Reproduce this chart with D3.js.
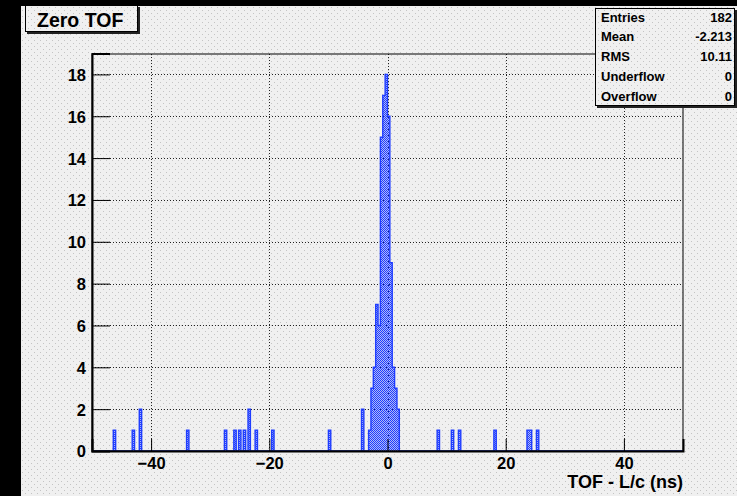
<!DOCTYPE html>
<html>
<head>
<meta charset="utf-8">
<script src="https://cdn.jsdelivr.net/npm/d3@7"></script>
<style>
body { margin: 0; background: #000; }
svg { display: block; }
text { font-family: "Liberation Sans", Arial, Helvetica, sans-serif; font-weight: bold; fill: #000; }
</style>
</head>
<body>
<script>
// histogram: 250 bins from -50 to 50 ns
const nBins = 250, xLow = -50, xHigh = 50;

// low edges of the non-empty bins and their contents
const binLow = [
  -46.4, -43.2, -42.0, -34.0, -27.6, -26.0, -25.2, -24.4, -23.6, -22.4, -19.6, -10.0,
  -4.4,
  -3.2, -2.8, -2.4, -2.0, -1.6, -1.2, -0.8, -0.4, 0.0, 0.4, 0.8, 1.2, 1.6,
  8.4, 10.8, 12.0, 18.0, 23.6, 24.0, 25.2
];
const binCount = [
  1, 1, 2, 1, 1, 1, 1, 1, 2, 1, 1, 1,
  2,
  1, 3, 4, 7, 6, 15, 17, 18, 16, 9, 4, 3, 2,
  1, 1, 1, 1, 1, 1, 1
];

const xMajor = [-40, -20, 0, 20, 40];
const yMajor = [0, 2, 4, 6, 8, 10, 12, 14, 16, 18];

const histTitle = "Zero TOF";
const xTitle = "TOF - L/c (ns)";
const statNames  = ["Entries", "Mean", "RMS", "Underflow", "Overflow"];
const statValues = ["182", "-2.213", "10.11", "0", "0"];

const W = 737, H = 496;
const frame = {left: 92, right: 683, top: 53.5, bottom: 451};
const lineBlue = "#1f3dff";

const svg = d3.select("body").append("svg")
    .attr("width", W).attr("height", H);

const defs = svg.append("defs");

// ROOT-like dotted canvas background
const bg = defs.append("pattern").attr("id", "bgdots")
    .attr("patternUnits", "userSpaceOnUse").attr("width", 6).attr("height", 6);
bg.append("rect").attr("width", 6).attr("height", 6).attr("fill", "#f0f0f0");
bg.append("rect").attr("x", 1).attr("y", 1).attr("width", 1).attr("height", 1).attr("fill", "#c4c4c4");
bg.append("rect").attr("x", 4).attr("y", 4).attr("width", 1).attr("height", 1).attr("fill", "#c4c4c4");

// histogram fill pattern (checker, like fill style 3001)
const hp = defs.append("pattern").attr("id", "hfill")
    .attr("patternUnits", "userSpaceOnUse").attr("width", 2).attr("height", 2);
hp.append("rect").attr("width", 2).attr("height", 2).attr("fill", lineBlue).attr("opacity", 0.3);
hp.append("rect").attr("x", 0).attr("y", 0).attr("width", 1).attr("height", 1).attr("fill", lineBlue);
hp.append("rect").attr("x", 1).attr("y", 1).attr("width", 1).attr("height", 1).attr("fill", lineBlue);

// canvas
svg.append("rect").attr("x", 21).attr("y", 6).attr("width", W - 21).attr("height", H - 6)
    .attr("fill", "url(#bgdots)");

const x = d3.scaleLinear().domain([xLow, xHigh]).range([frame.left, frame.right]);
const y = d3.scaleLinear().domain([0, 19]).range([frame.bottom, frame.top]);

// grid (dotted, drawn under the histogram like ROOT does)
const grid = svg.append("g").attr("stroke", "#222").attr("stroke-width", 1)
    .attr("stroke-dasharray", "1,2");
grid.selectAll("line.gx").data(xMajor).join("line").attr("class", "gx")
    .attr("x1", d => Math.round(x(d)) + 0.5).attr("x2", d => Math.round(x(d)) + 0.5)
    .attr("y1", frame.bottom).attr("y2", frame.top);
grid.selectAll("line.gy").data(yMajor.filter(v => v > 0)).join("line").attr("class", "gy")
    .attr("y1", d => Math.round(y(d)) + 0.5).attr("y2", d => Math.round(y(d)) + 0.5)
    .attr("x1", frame.left).attr("x2", frame.right);

// build bin contents
const bw = (xHigh - xLow) / nBins;
const counts = new Array(nBins).fill(0);
binLow.forEach((b, i) => { counts[Math.round((b - xLow) / bw)] = binCount[i]; });
const pts = counts.map((c, i) => [xLow + i * bw, c]);
pts.push([xHigh, counts[nBins - 1]]);

const area = d3.area().curve(d3.curveStepAfter)
    .x(d => x(d[0])).y0(y(0)).y1(d => y(d[1]));
const line = d3.line().curve(d3.curveStepAfter)
    .x(d => x(d[0])).y(d => y(d[1]));

svg.append("path").datum(pts).attr("d", area).attr("fill", "url(#hfill)");
svg.append("path").datum(pts).attr("d", line)
    .attr("fill", "none").attr("stroke", lineBlue).attr("stroke-width", 1.4);

// frame
svg.append("rect").attr("x", frame.left).attr("y", frame.top + 0.5)
    .attr("width", frame.right - frame.left).attr("height", frame.bottom - frame.top - 0.5)
    .attr("fill", "none").attr("stroke", "#000").attr("stroke-width", 1);

// x axis: ticks point up into the frame
const xMinor = d3.range(-50, 50.01, 5).filter(v => !xMajor.includes(v));
const gx = svg.append("g").attr("transform", "translate(0," + frame.bottom + ")");
gx.call(d3.axisBottom(x).tickValues(xMinor).tickSize(-6).tickFormat(""));
gx.call(d3.axisBottom(x).tickValues(xMajor).tickSize(-12).tickPadding(6)
    .tickFormat(d3.format("d")));
gx.select(".domain").attr("stroke-width", 2);

// y axis: ticks point right
const yMinor = d3.range(0, 19, 0.5).filter(v => !yMajor.includes(v));
const gy = svg.append("g").attr("transform", "translate(" + frame.left + ",0)");
gy.call(d3.axisLeft(y).tickValues(yMinor).tickSize(-9).tickFormat(""));
gy.call(d3.axisLeft(y).tickValues(yMajor).tickSize(-18).tickPadding(6)
    .tickFormat(d3.format("d")));
gy.select(".domain").attr("stroke-width", 2);

svg.selectAll(".tick line").attr("stroke", "#000");
svg.selectAll(".domain").attr("stroke", "#000");
svg.selectAll(".tick text").style("font-size", "16.5px")
    .style("font-family", "'Liberation Sans', Arial, sans-serif").style("font-weight", "bold")
    .attr("fill", "#000");
gy.selectAll(".tick text").attr("dy", "0.36em");

// x axis title
svg.append("text").attr("x", frame.right).attr("y", 487.5)
    .attr("text-anchor", "end").style("font-size", "18px").text(xTitle);

// title box with shadow
svg.append("rect").attr("x", 27).attr("y", 7).attr("width", 113).attr("height", 27).attr("fill", "#222");
svg.append("rect").attr("x", 25.5).attr("y", 5.5).attr("width", 112).attr("height", 26)
    .attr("fill", "url(#bgdots)").attr("stroke", "#000").attr("stroke-width", 1);
svg.append("text").attr("x", 37).attr("y", 27).style("font-size", "19.5px").text(histTitle);

// stats box with shadow
svg.append("rect").attr("x", 597).attr("y", 10).attr("width", 140).attr("height", 98).attr("fill", "#222");
svg.append("rect").attr("x", 595.5).attr("y", 8.5).attr("width", 139).attr("height", 97)
    .attr("fill", "url(#bgdots)").attr("stroke", "#000").attr("stroke-width", 1);
const st = svg.append("g").style("font-size", "13px");
st.selectAll("text.n").data(statNames).join("text").attr("class", "n")
    .attr("x", 601).attr("y", (d, i) => 21.5 + i * 19.8).text(d => d);
st.selectAll("text.v").data(statValues).join("text").attr("class", "v")
    .attr("x", 732).attr("y", (d, i) => 21.5 + i * 19.8).attr("text-anchor", "end").text(d => d);
</script>
</body>
</html>
